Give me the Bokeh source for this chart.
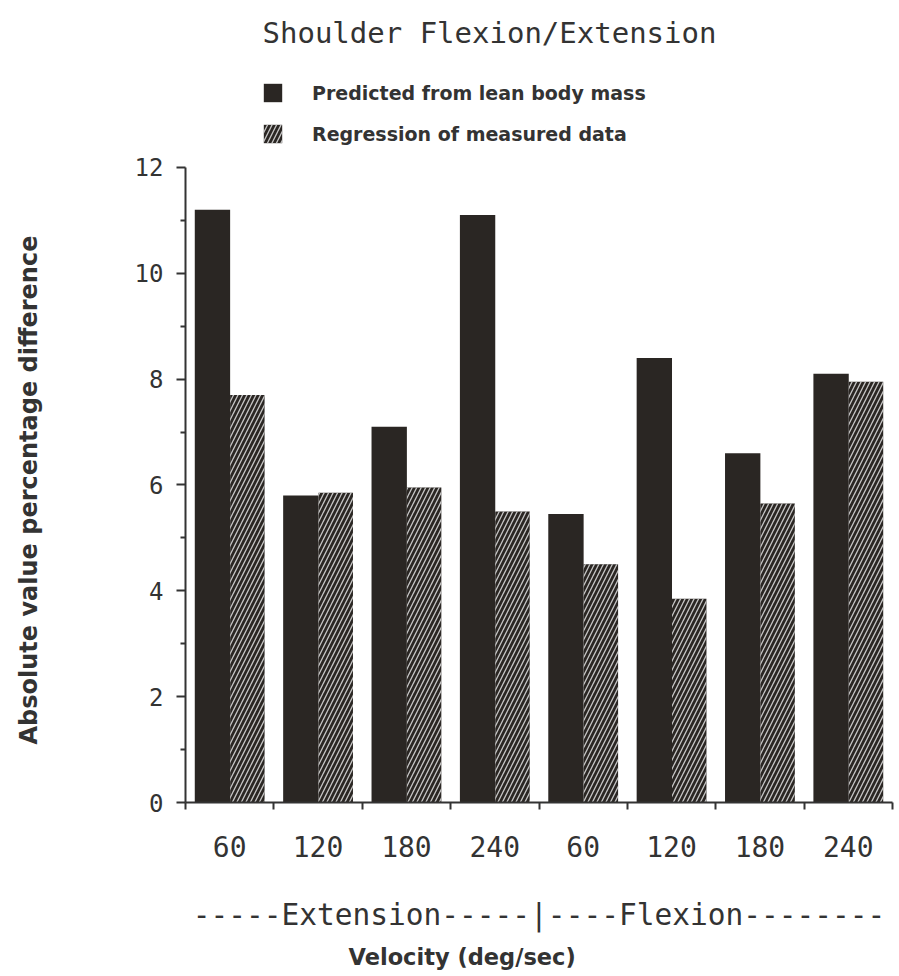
from bokeh.plotting import figure
from bokeh.models import (ColumnDataSource, FixedTicker, Legend, LegendItem,
                          LinearAxis, Range1d, Title)
from bokeh.transform import dodge
from bokeh.embed import file_html
from bokeh.resources import INLINE

# ---- data ----
velocities = ["60", "120", "180", "240", "60", "120", "180", "240"]
movements = ["Extension"] * 4 + ["Flexion"] * 4
predicted = [11.2, 5.8, 7.1, 11.1, 5.45, 8.4, 6.6, 8.1]
regression = [7.7, 5.85, 5.95, 5.5, 4.5, 3.85, 5.65, 7.95]
y_ticks = [0, 2, 4, 6, 8, 10, 12]
series_names = ["Predicted from lean body mass", "Regression of measured data"]
group_line = "-----Extension-----|----Flexion--------"

DARK = "#2a2623"
TEXT = "#333333"
MONO = "DejaVu Sans Mono"
SANS = "DejaVu Sans"

x = [i + 0.5 for i in range(len(velocities))]
src = ColumnDataSource(dict(x=x, predicted=predicted, regression=regression,
                            vel=velocities, mov=movements))

# the frame extends above 12 so the legend can sit inside it; axis is bounded to 0-12
p = figure(width=899, height=976, x_range=Range1d(0, len(velocities)),
           y_range=Range1d(0, 14), output_backend="svg", toolbar_location=None,
           min_border_left=185, min_border_right=7, min_border_top=61,
           min_border_bottom=173)
p.outline_line_color = None
p.grid.visible = False
p.background_fill_color = "white"

r1 = p.vbar(x=dodge("x", -0.195, range=p.x_range), top="predicted", width=0.4,
            source=src, fill_color=DARK, line_color=None)
r2 = p.vbar(x=dodge("x", 0.2, range=p.x_range), top="regression", width=0.39,
            source=src, fill_color=DARK, line_color=None,
            hatch_pattern="/", hatch_color="#d6d6d6", hatch_scale=9,
            hatch_weight=1.3, hatch_alpha=0.9)

legend = Legend(items=[LegendItem(label=series_names[0], renderers=[r1]),
                       LegendItem(label=series_names[1], renderers=[r2])],
                location=(76, 657), padding=0, margin=0, spacing=18,
                glyph_width=23, glyph_height=23, label_height=19,
                label_standoff=28, border_line_alpha=0,
                background_fill_alpha=0, label_text_font=SANS,
                label_text_font_style="bold", label_text_font_size="19px",
                label_text_color=TEXT)
p.add_layout(legend)

p.title.text = "Shoulder Flexion/Extension"
p.title.align = "left"
p.title.offset = 77
p.title.standoff = 24
p.title.text_font = MONO
p.title.text_font_style = "normal"
p.title.text_font_size = "29px"
p.title.text_color = TEXT

# x axis
xa = p.xaxis[0]
xa.ticker = FixedTicker(ticks=x, minor_ticks=list(range(len(velocities) + 1)))
xa.major_label_overrides = {xi: v for xi, v in zip(x, velocities)}
xa.major_tick_out = 0
xa.major_tick_in = 0
xa.minor_tick_out = 7
xa.minor_tick_in = 0
xa.major_label_standoff = 26
xa.major_label_text_font = MONO
xa.major_label_text_font_size = "28px"
xa.major_label_text_color = TEXT
xa.axis_line_width = 2
xa.axis_line_color = TEXT
xa.minor_tick_line_width = 2
xa.minor_tick_line_color = TEXT
xa.axis_label = group_line
xa.axis_label_text_font = MONO
xa.axis_label_text_font_style = "normal"
xa.axis_label_text_font_size = "29.5px"
xa.axis_label_text_color = TEXT
xa.axis_label_standoff = 38

p.add_layout(Title(text="Velocity (deg/sec)", align="left", offset=163,
                   standoff=14, text_font=SANS, text_font_style="bold",
                   text_font_size="22.5px", text_color=TEXT), "below")

# y axis
ya = p.yaxis[0]
ya.bounds = (y_ticks[0], y_ticks[-1])
ya.ticker = FixedTicker(ticks=y_ticks, minor_ticks=[t + 1 for t in y_ticks[:-1]])
ya.major_tick_out = 9
ya.major_tick_in = 0
ya.minor_tick_out = 5
ya.minor_tick_in = 0
ya.major_tick_line_width = 2
ya.minor_tick_line_width = 2
ya.major_tick_line_color = TEXT
ya.minor_tick_line_color = TEXT
ya.axis_line_width = 2
ya.axis_line_color = TEXT
ya.major_label_standoff = 13
ya.major_label_text_font = MONO
ya.major_label_text_font_size = "24px"
ya.major_label_text_color = TEXT

# white (invisible) spacer axis that pushes the vertical title outward
spacer = LinearAxis(ticker=FixedTicker(ticks=[y_ticks[0]]), major_tick_out=82,
                    major_tick_in=0, minor_tick_out=0, minor_tick_in=0,
                    axis_line_color=None, major_tick_line_color="white",
                    minor_tick_line_color=None, major_label_standoff=0,
                    major_label_overrides={y_ticks[0]: ""},
                    major_label_text_font_size="1px",
                    major_label_text_color="white")
p.add_layout(spacer, "left")

p.add_layout(Title(text="Absolute value percentage difference", align="left",
                   offset=58, standoff=10, vertical_align="top",
                   text_font=SANS, text_font_style="bold",
                   text_font_size="24px", text_color=TEXT), "left")

open("out.html", "w").write(file_html(p, INLINE))
